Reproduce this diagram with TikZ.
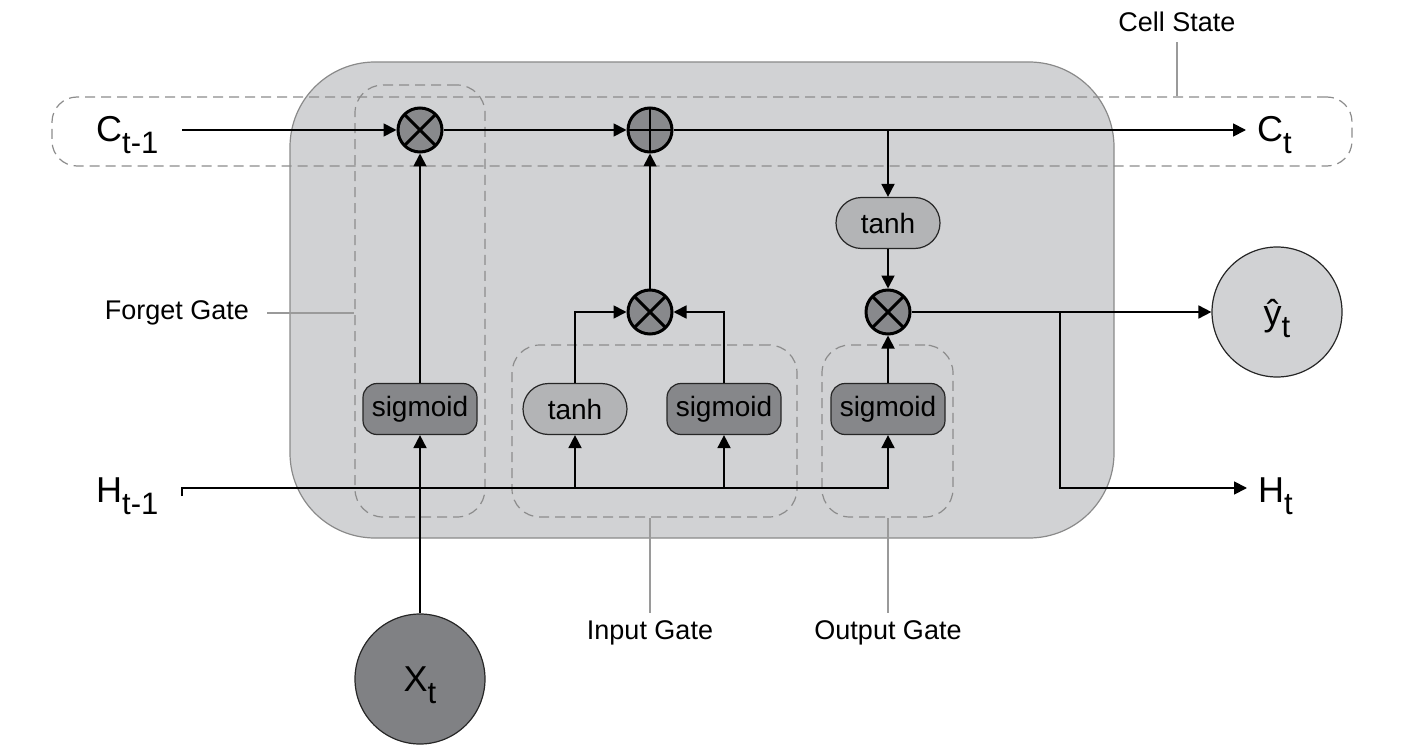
\documentclass[tikz,border=0pt]{standalone}
\usepackage{fontspec}
\setmainfont{Liberation Sans}
\usetikzlibrary{arrows.meta,fit,shapes.misc}
\definecolor{bggrey}{HTML}{D1D2D4}
\definecolor{edgegrey}{HTML}{8A8A8A}
\definecolor{dashgrey}{HTML}{8C8C8C}
\definecolor{leadgrey}{HTML}{9A9A9A}
\definecolor{opgrey}{HTML}{88898C}
\definecolor{siggrey}{HTML}{86878A}
\definecolor{tanhgrey}{HTML}{B3B4B6}
\definecolor{xtgrey}{HTML}{808184}
\newcommand\lowsub[1]{\raisebox{-12pt}{\fontsize{31}{34}\selectfont #1}}
\tikzset{
  conn/.style={line width=1.8pt, -{Triangle[length=13pt,width=13pt]}},
  leader/.style={draw=leadgrey, line width=1.2pt},
  zone/.style={draw=dashgrey, line width=1.2pt, dash pattern=on 10pt off 6pt, rounded corners=28pt, inner sep=0pt},
  mult/.style={circle, draw, line width=3pt, fill=opgrey, minimum size=44pt, inner sep=0pt,
    path picture={\draw[line width=3pt] (path picture bounding box.north west) -- (path picture bounding box.south east)
      (path picture bounding box.north east) -- (path picture bounding box.south west);}},
  addop/.style={circle, draw, line width=3pt, fill=opgrey, minimum size=44pt, inner sep=0pt,
    path picture={\draw[line width=2.4pt] (path picture bounding box.north) -- (path picture bounding box.south)
      (path picture bounding box.east) -- (path picture bounding box.west);}},
  sigbox/.style={draw=black!85, line width=1.2pt, fill=siggrey, rounded corners=14pt, minimum width=114pt, minimum height=51pt, inner sep=0pt, font=\fontsize{28}{30}\selectfont},
  tanhbox/.style={rounded rectangle, draw=black!85, line width=1.2pt, fill=tanhgrey, minimum width=104pt, minimum height=51pt, inner sep=0pt, font=\fontsize{28}{30}\selectfont},
  io/.style={circle, draw=black!85, line width=1.2pt, minimum size=130pt, inner sep=0pt, text depth=0pt, font=\fontsize{36}{40}\selectfont},
  lbl/.style={font=\fontsize{27}{32}\selectfont, inner sep=0pt},
  big/.style={font=\fontsize{36}{40}\selectfont, inner sep=0pt}
}
\begin{document}
\begin{tikzpicture}[x=1pt,y=-1pt]
	\useasboundingbox (0,0) rectangle (1405,754);
	\draw[fill=bggrey, draw=edgegrey, line width=1.2pt, rounded corners=85pt] (290,62) rectangle (1114,538);
	% gates and cell state
	\node[zone, rounded corners=25pt, fit={(52,97) (1352,166)}] (cellst) {};
	\node[zone, fit={(355,85) (485,517)}] (fgate) {};
	\node[zone, fit={(512,345) (797,517)}] (igate) {};
	\node[zone, fit={(822,345) (953,517)}] (ogate) {};
	\node[lbl] (cslbl) at (1177,22) {Cell State};
	\node[lbl] (fglbl) at (177,313) {Forget Gate};
	\node[lbl] (iglbl) at (650,633) {Input Gate};
	\node[lbl] (oglbl) at (888,633) {Output Gate};
	\draw[leader] ([yshift=-10pt]cslbl.south) -- (cslbl |- cellst.north);
	\draw[leader] ([xshift=18pt]fglbl.east) -- (fglbl -| fgate.west);
	\draw[leader] ([yshift=8pt]iglbl.north) -- (iglbl |- igate.south);
	\draw[leader] ([yshift=8pt]oglbl.north) -- (oglbl |- ogate.south);
	% operations
	\node[mult] (fmul) at (420,130) {};
	\node[addop] (addc) at (650,130) {};
	\node[mult] (imul) at (650,312) {};
	\node[mult] (omul) at (888,312) {};
	\node[sigbox] (sig1) at (420,409) {sigmoid};
	\node[tanhbox] (tanh1) at (575,409) {tanh};
	\node[sigbox] (sig2) at (724,409) {sigmoid};
	\node[sigbox] (sig3) at (888,409) {sigmoid};
	\node[tanhbox] (tanh2) at (888,223) {tanh};
	\node[io, fill=xtgrey] (xt) at (420,679) {X\lowsub{t}};
	\node[io, fill=bggrey] (yhat) at (1277,312) {ŷ\lowsub{t}};
	\node[big, anchor=base west] (cprev) at (96,142) {C\lowsub{t-1}};
	\node[big, anchor=base west] (hprev) at (96,502) {H\lowsub{t-1}};
	\node[big, anchor=base west] (cnext) at (1257,142) {C\lowsub{t}};
	\node[big, anchor=base west] (hnext) at (1258,502) {H\lowsub{t}};
	\coordinate (cin) at (182,130);
	\coordinate (hin) at (182,488);
	\coordinate (cout) at (1246,130);
	\coordinate (hout) at (1247,488);
	\coordinate (hsplit) at (1060,312);
	% connectors
	\draw[conn] (cin) -- (fmul);
	\draw[conn] (fmul) -- (addc);
	\draw[conn] (addc) -- (cout);
	\draw[conn] (addc -| tanh2) -- (tanh2);
	\draw[conn] (tanh2) -- (omul);
	\draw[conn] (sig1) -- (fmul);
	\draw[conn] (imul) -- (addc);
	\draw[conn] (tanh1) |- (imul);
	\draw[conn] (sig2) |- (imul);
	\draw[conn] (sig3) -- (omul);
	\draw[conn] (xt) -- (sig1);
	\draw[conn] (hin) ++(0,8) -- (hin) -| (sig3);
	\draw[conn] (tanh1 |- hin) -- (tanh1);
	\draw[conn] (sig2 |- hin) -- (sig2);
	\draw[conn] (omul) -- (yhat);
	\draw[conn] (hsplit) |- (hout);
\end{tikzpicture}
\end{document}
